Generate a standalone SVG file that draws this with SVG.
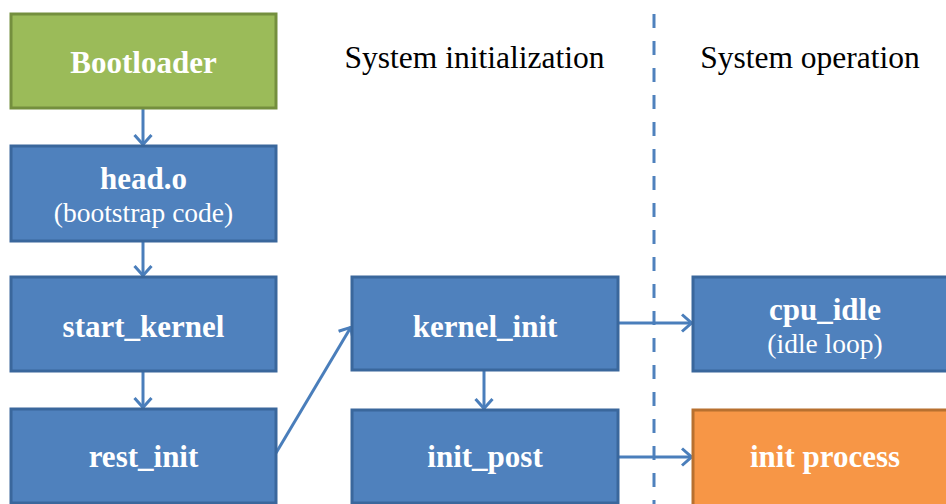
<svg xmlns="http://www.w3.org/2000/svg" width="946" height="504" viewBox="0 0 946 504">
<style>
.box{stroke-width:3}
.blue{fill:#4F81BD;stroke:#3A679C}
.green{fill:#9BBB59;stroke:#748F3E}
.orange{fill:#F79646;stroke:#B8702F}
.t{font-family:'Liberation Serif','Times New Roman',serif;fill:#fff;text-anchor:middle}
.b{font-weight:bold;font-size:31px}
.r{font-size:27.5px}
.h{font-family:'Liberation Serif','Times New Roman',serif;fill:#000;font-size:31.5px;text-anchor:middle}
.c{stroke:#4A7EBB;stroke-width:3;fill:none}
</style>
<defs>
<marker id="ah" viewBox="0 0 12 20" refX="11" refY="10" markerWidth="12" markerHeight="20" markerUnits="userSpaceOnUse" orient="auto">
<path d="M1,1.5 L10.5,10 L1,18.5" fill="none" stroke="#4A7EBB" stroke-width="3"/>
</marker>
</defs>
<text class="h" x="474.5" y="68">System initialization</text>
<text class="h" x="810" y="68">System operation</text>
<line x1="654" y1="14" x2="654" y2="504" stroke="#4F81BD" stroke-width="3" stroke-dasharray="14,13"/>
<g id="connectors">
<line class="c" x1="143" y1="108" x2="143" y2="145" marker-end="url(#ah)"/>
<line class="c" x1="143" y1="241" x2="143" y2="276" marker-end="url(#ah)"/>
<line class="c" x1="143" y1="371" x2="143" y2="408" marker-end="url(#ah)"/>
<line class="c" x1="276" y1="453" x2="351" y2="327" marker-end="url(#ah)"/>
<line class="c" x1="484" y1="370" x2="484" y2="409" marker-end="url(#ah)"/>
<line class="c" x1="618" y1="323" x2="692" y2="323" marker-end="url(#ah)"/>
<line class="c" x1="618" y1="457" x2="692" y2="457" marker-end="url(#ah)"/>
</g>
<g id="bootloader">
<rect class="box green" x="11" y="14" width="265" height="94"/>
<text class="t b" x="143.5" y="73">Bootloader</text>
</g>
<g id="head_o">
<rect class="box blue" x="11" y="146" width="265" height="95"/>
<text class="t b" x="143.5" y="189">head.o</text>
<text class="t r" x="143.5" y="222">(bootstrap code)</text>
</g>
<g id="start_kernel">
<rect class="box blue" x="11" y="277" width="265" height="94"/>
<text class="t b" x="143.5" y="337">start_kernel</text>
</g>
<g id="rest_init">
<rect class="box blue" x="11" y="409" width="265" height="94"/>
<text class="t b" x="143.5" y="467">rest_init</text>
</g>
<g id="kernel_init">
<rect class="box blue" x="352" y="277" width="266" height="93"/>
<text class="t b" x="485" y="337">kernel_init</text>
</g>
<g id="init_post">
<rect class="box blue" x="352" y="410" width="266" height="93"/>
<text class="t b" x="485" y="467">init_post</text>
</g>
<g id="cpu_idle">
<rect class="box blue" x="693" y="277" width="265" height="94"/>
<text class="t b" x="825" y="320">cpu_idle</text>
<text class="t r" x="825" y="353">(idle loop)</text>
</g>
<g id="init_process">
<rect class="box orange" x="693" y="410" width="265" height="96"/>
<text class="t b" x="825" y="467">init process</text>
</g>
</svg>
